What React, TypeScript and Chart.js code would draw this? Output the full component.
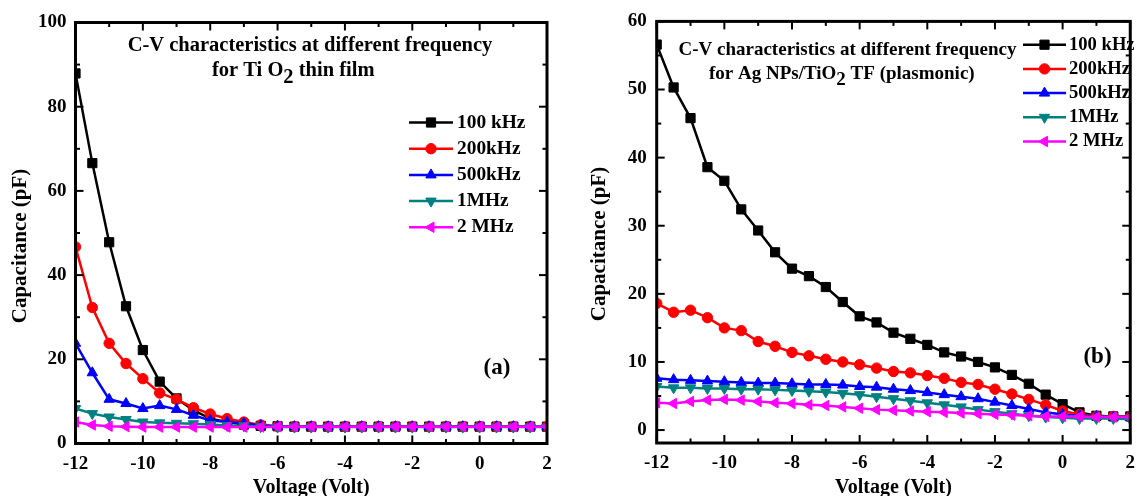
import React, { useEffect, useRef } from "react";
import { Chart, registerables } from "chart.js";
import { drawPoint } from "chart.js/helpers";

Chart.register(...registerables);

// ---------------- DATA ----------------
const voltage = [
  -12, -11.5, -11, -10.5, -10, -9.5, -9, -8.5, -8, -7.5, -7, -6.5, -6, -5.5, -5,
  -4.5, -4, -3.5, -3, -2.5, -2, -1.5, -1, -0.5, 0, 0.5, 1, 1.5, 2,
];

const seriesLabels = ["100 kHz", "200kHz", "500kHz", "1MHz", "2 MHz"];

// Panel (a): TiO2 thin film
const capA_100k = [87.9, 66.6, 47.8, 32.6, 22.2, 14.7, 10.7, 7.9, 5.9, 5.1, 4.5, 4.2, 4.1, 4.0, 4.0, 4.0, 4.0, 4.0, 4.0, 4.0, 4.0, 4.0, 4.0, 4.0, 4.0, 4.0, 4.0, 4.0, 4.0];
const capA_200k = [46.7, 32.3, 23.8, 19.0, 15.4, 12.0, 10.5, 8.5, 7.0, 5.9, 5.1, 4.4, 4.1, 4.0, 4.0, 4.0, 4.0, 4.0, 4.0, 4.0, 4.0, 4.0, 4.0, 4.0, 4.0, 4.0, 4.0, 4.0, 4.0];
const capA_500k = [23.8, 16.8, 10.5, 9.5, 8.3, 9.0, 8.1, 6.7, 5.5, 5.1, 4.8, 4.3, 4.1, 4.0, 4.0, 4.0, 4.0, 4.0, 4.0, 4.0, 4.0, 4.0, 4.0, 4.0, 4.0, 4.0, 4.0, 4.0, 4.0];
const capA_1M = [8.3, 7.1, 6.3, 5.7, 5.1, 4.9, 4.8, 4.7, 4.5, 4.3, 4.2, 4.0, 3.9, 3.9, 3.9, 3.9, 3.9, 3.9, 3.9, 3.9, 3.9, 3.9, 3.9, 3.9, 3.9, 3.9, 3.9, 3.9, 3.9];
const capA_2M = [5.1, 4.4, 4.1, 4.0, 3.9, 3.9, 3.9, 3.9, 3.9, 3.9, 3.9, 3.9, 4.0, 4.0, 4.0, 4.0, 4.0, 4.0, 4.0, 4.0, 4.0, 4.0, 4.0, 4.0, 4.0, 4.0, 4.0, 4.0, 4.0];

// Panel (b): Ag NPs/TiO2 TF (plasmonic)
const capB_100k = [56.6, 50.3, 45.8, 38.6, 36.6, 32.4, 29.3, 26.1, 23.7, 22.6, 21.0, 18.8, 16.7, 15.8, 14.3, 13.4, 12.5, 11.4, 10.8, 10.0, 9.2, 8.1, 6.8, 5.2, 3.8, 2.6, 2.1, 2.0, 2.0];
const capB_200k = [18.6, 17.3, 17.6, 16.5, 15.0, 14.6, 13.0, 12.3, 11.4, 10.9, 10.4, 10.0, 9.6, 9.1, 8.6, 8.4, 8.0, 7.6, 7.0, 6.7, 6.0, 5.3, 4.5, 3.7, 2.8, 2.3, 2.0, 2.0, 1.9];
const capB_500k = [7.6, 7.4, 7.3, 7.2, 7.1, 7.0, 6.9, 6.9, 6.8, 6.7, 6.7, 6.6, 6.4, 6.3, 6.0, 5.8, 5.5, 5.2, 4.9, 4.6, 4.1, 3.6, 3.1, 2.6, 2.3, 2.1, 2.0, 1.9, 1.9];
const capB_1M = [6.4, 6.2, 6.2, 6.1, 6.1, 6.0, 6.0, 5.9, 5.8, 5.7, 5.6, 5.4, 5.2, 4.9, 4.6, 4.3, 4.0, 3.7, 3.4, 3.0, 2.7, 2.4, 2.1, 1.9, 1.8, 1.7, 1.7, 1.7, 1.6];
const capB_2M = [4.0, 3.9, 4.2, 4.4, 4.5, 4.4, 4.2, 4.0, 3.9, 3.7, 3.6, 3.4, 3.2, 3.0, 2.9, 2.8, 2.7, 2.6, 2.5, 2.4, 2.3, 2.2, 2.1, 2.0, 2.0, 2.0, 1.9, 1.9, 1.9];

const xTickValues = [-12, -10, -8, -6, -4, -2, 0, 2];
const xMinorValues = [-11, -9, -7, -5, -3, -1, 1];
const yTickValuesA = [0, 20, 40, 60, 80, 100];
const yMinorValuesA = [10, 30, 50, 70, 90];
const yTickValuesB = [0, 10, 20, 30, 40, 50, 60];
const yMinorValuesB = [5, 15, 25, 35, 45, 55];

const xAxisTitle = "Voltage (Volt)";
const yAxisTitle = "Capacitance (pF)";

// ---------------- STYLES ----------------
const FONT = "'Liberation Serif', 'Times New Roman', Times, serif";
const colors = ["#000000", "#ff0000", "#0000ff", "#008080", "#ff00ff"];
const pointStyles = ["rect", "circle", "triangle", "triangle", "triangle"];
const pointRotations = [0, 0, 0, 180, 270];
const pointRadii = [6.5, 5.2, 6, 6, 6];

type Seg = { t: string; sub?: boolean };

function drawRich(ctx: CanvasRenderingContext2D, segs: Seg[], x: number, y: number, size: number) {
  ctx.font = `bold ${size}px ${FONT}`;
  ctx.textAlign = "left";
  ctx.textBaseline = "middle";
  let cx = x;
  for (const s of segs) {
    const dy = s.sub ? size * 0.32 : 0;
    ctx.fillText(s.t, cx, y + dy);
    cx += ctx.measureText(s.t).width;
  }
}

function richWidth(ctx: CanvasRenderingContext2D, segs: Seg[], size: number) {
  ctx.font = `bold ${size}px ${FONT}`;
  return segs.reduce((w, s) => w + ctx.measureText(s.t).width, 0);
}

const decorPlugin = {
  id: "decor",
  afterDatasetsDraw(chart: any, _args: any, o: any) {
    const { ctx, chartArea: a, scales } = chart;
    const xs = scales.x;
    const ys = scales.y;
    ctx.save();
    ctx.strokeStyle = "#000";
    ctx.fillStyle = "#000";
    const seg = (x1: number, y1: number, x2: number, y2: number) => {
      ctx.beginPath();
      ctx.moveTo(x1, y1);
      ctx.lineTo(x2, y2);
      ctx.stroke();
    };
    ctx.lineWidth = 2;
    const MAJ = 8;
    const MIN = 4.5;
    for (const v of o.xMajor) {
      const p = xs.getPixelForValue(v);
      seg(p, a.bottom, p, a.bottom - MAJ);
      seg(p, a.top, p, a.top + MAJ);
    }
    for (const v of o.xMinor) {
      const p = xs.getPixelForValue(v);
      seg(p, a.bottom, p, a.bottom - MIN);
      seg(p, a.top, p, a.top + MIN);
    }
    for (const v of o.yMajor) {
      const p = ys.getPixelForValue(v);
      seg(a.left, p, a.left + MAJ, p);
      seg(a.right, p, a.right - MAJ, p);
    }
    for (const v of o.yMinor) {
      const p = ys.getPixelForValue(v);
      seg(a.left, p, a.left + MIN, p);
      seg(a.right, p, a.right - MIN, p);
    }
    ctx.lineWidth = 3;
    ctx.strokeRect(a.left, a.top, a.right - a.left, a.bottom - a.top);

    // y-axis title (rotated)
    ctx.save();
    ctx.translate(o.yTitle.x, o.yTitle.y);
    ctx.rotate(-Math.PI / 2);
    ctx.font = `bold ${o.yTitle.size}px ${FONT}`;
    ctx.textAlign = "center";
    ctx.textBaseline = "middle";
    ctx.fillStyle = "#000";
    ctx.fillText(yAxisTitle, 0, 0);
    ctx.restore();

    // title lines
    ctx.fillStyle = "#000";
    for (const line of o.title) {
      const w = richWidth(ctx, line.segs, o.titleSize);
      const x = line.cx !== undefined ? line.cx - w / 2 : line.x;
      drawRich(ctx, line.segs, x, line.y, o.titleSize);
    }

    // panel label
    ctx.font = `bold ${o.panelSize}px ${FONT}`;
    ctx.textAlign = "center";
    ctx.textBaseline = "middle";
    ctx.fillText(o.panel.text, o.panel.x, o.panel.y);

    // legend
    const lg = o.legend;
    chart.data.datasets.forEach((ds: any, i: number) => {
      const y = lg.y0 + i * lg.dy;
      ctx.strokeStyle = ds.borderColor;
      ctx.fillStyle = ds.borderColor;
      ctx.lineWidth = 2.5;
      seg(lg.x1, y, lg.x2, y);
      ctx.lineWidth = 1;
      drawPoint(ctx, { pointStyle: ds.pointStyle, rotation: ds.pointRotation, radius: ds.pointRadius, borderWidth: 1 } as any, (lg.x1 + lg.x2) / 2, y);
      ctx.fillStyle = "#000";
      ctx.font = `bold ${lg.size}px ${FONT}`;
      ctx.textAlign = "left";
      ctx.textBaseline = "middle";
      ctx.fillText(ds.label, lg.tx, y);
    });
    ctx.restore();
  },
};

type Panel = {
  series: number[][];
  yMin: number;
  yMax: number;
  yTicks: number[];
  yMinor: number[];
  area: { left: number; right: number; top: number; bottom: number };
  yLabelPad: number;
  decor: any;
};

const W = 572;
const H = 496;

function makeChart(canvas: HTMLCanvasElement, p: Panel) {
  const tickFont = { family: FONT, size: 19, weight: "bold" as const };
  const titleFont = { family: FONT, size: 20, weight: "bold" as const };
  return new Chart(canvas, {
    type: "line",
    data: {
      datasets: p.series.map((vals, i) => ({
        label: seriesLabels[i],
        data: voltage.map((v, k) => ({ x: v, y: vals[k] })),
        borderColor: colors[i],
        backgroundColor: colors[i],
        pointBackgroundColor: colors[i],
        pointBorderColor: colors[i],
        pointStyle: pointStyles[i] as any,
        pointRotation: pointRotations[i],
        pointRadius: pointRadii[i],
        pointBorderWidth: 1,
        borderWidth: 2.5,
        tension: 0,
        order: 4 - i,
      })),
    },
    options: {
      animation: false,
      responsive: false,
      maintainAspectRatio: false,
      events: [],
      layout: {
        padding: { left: 0, top: p.area.top, right: W - p.area.right, bottom: 0 },
      },
      plugins: {
        legend: { display: false },
        tooltip: { enabled: false },
        decor: p.decor,
      } as any,
      scales: {
        x: {
          type: "linear",
          min: -12,
          max: 2,
          grid: { display: false, drawTicks: false },
          border: { display: false },
          ticks: { font: tickFont, color: "#000", padding: 9, maxRotation: 0 },
          afterBuildTicks: (s: any) => {
            s.ticks = xTickValues.map((v) => ({ value: v }));
          },
          afterFit: (s: any) => {
            s.height = H - p.area.bottom;
          },
          title: { display: true, text: xAxisTitle, font: titleFont, color: "#000", padding: { top: 0, bottom: -4 } },
        },
        y: {
          type: "linear",
          min: p.yMin,
          max: p.yMax,
          grid: { display: false, drawTicks: false },
          border: { display: false },
          ticks: { font: tickFont, color: "#000", padding: p.yLabelPad },
          afterBuildTicks: (s: any) => {
            s.ticks = p.yTicks.map((v) => ({ value: v }));
          },
          afterFit: (s: any) => {
            s.width = p.area.left;
          },
        },
      },
    } as any,
    plugins: [decorPlugin as any],
  });
}

const panelA: Panel = {
  series: [capA_100k, capA_200k, capA_500k, capA_1M, capA_2M],
  yMin: 0,
  yMax: 100,
  yTicks: yTickValuesA,
  yMinor: yMinorValuesA,
  area: { left: 75.5, right: 547, top: 22.5, bottom: 443.5 },
  yLabelPad: 9,
  decor: {
    xMajor: xTickValues,
    xMinor: xMinorValues,
    yMajor: yTickValuesA,
    yMinor: yMinorValuesA,
    yTitle: { x: 21, y: 246, size: 21 },
    titleSize: 20.5,
    title: [
      { segs: [{ t: "C-V characteristics at different frequency" }], cx: 310, y: 46 },
      { segs: [{ t: "for Ti O" }, { t: "2", sub: true }, { t: " thin film" }], x: 212, y: 71 },
    ],
    panelSize: 23,
    panel: { text: "(a)", x: 497, y: 368 },
    legend: { x1: 409, x2: 453, tx: 457, y0: 122.5, dy: 26.2, size: 19.4 },
  },
};

const panelB: Panel = {
  series: [capB_100k, capB_200k, capB_500k, capB_1M, capB_2M],
  yMin: -1.9,
  yMax: 60,
  yTicks: yTickValuesB,
  yMinor: yMinorValuesB,
  area: { left: 84.7, right: 565, top: 21, bottom: 443 },
  yLabelPad: 10,
  decor: {
    xMajor: xTickValues,
    xMinor: xMinorValues,
    yMajor: yTickValuesB,
    yMinor: yMinorValuesB,
    yTitle: { x: 28, y: 244, size: 21 },
    titleSize: 19,
    title: [
      { segs: [{ t: "C-V characteristics at different frequency" }], cx: 847.5 - 572, y: 50 },
      { segs: [{ t: "for Ag NPs/TiO" }, { t: "2", sub: true }, { t: " TF (plasmonic)" }], x: 709 - 572, y: 74 },
    ],
    panelSize: 23,
    panel: { text: "(b)", x: 1097.5 - 572, y: 357 },
    legend: { x1: 1023 - 572, x2: 1066 - 572, tx: 1069 - 572, y0: 44.7, dy: 24.2, size: 18.6 },
  },
};

function ChartPanel({ panel, left }: { panel: Panel; left: number }) {
  const ref = useRef<HTMLCanvasElement | null>(null);
  useEffect(() => {
    if (!ref.current) return;
    const c = makeChart(ref.current, panel);
    return () => c.destroy();
  }, [panel]);
  return (
    <canvas
      ref={ref}
      width={W}
      height={H}
      style={{ position: "absolute", left, top: 0, width: W, height: H }}
    />
  );
}

export default function App() {
  return (
    <div style={{ position: "fixed", left: 0, top: 0, width: 1144, height: 496, background: "#fff", overflow: "hidden" }}>
      <ChartPanel panel={panelA} left={0} />
      <ChartPanel panel={panelB} left={572} />
    </div>
  );
}
